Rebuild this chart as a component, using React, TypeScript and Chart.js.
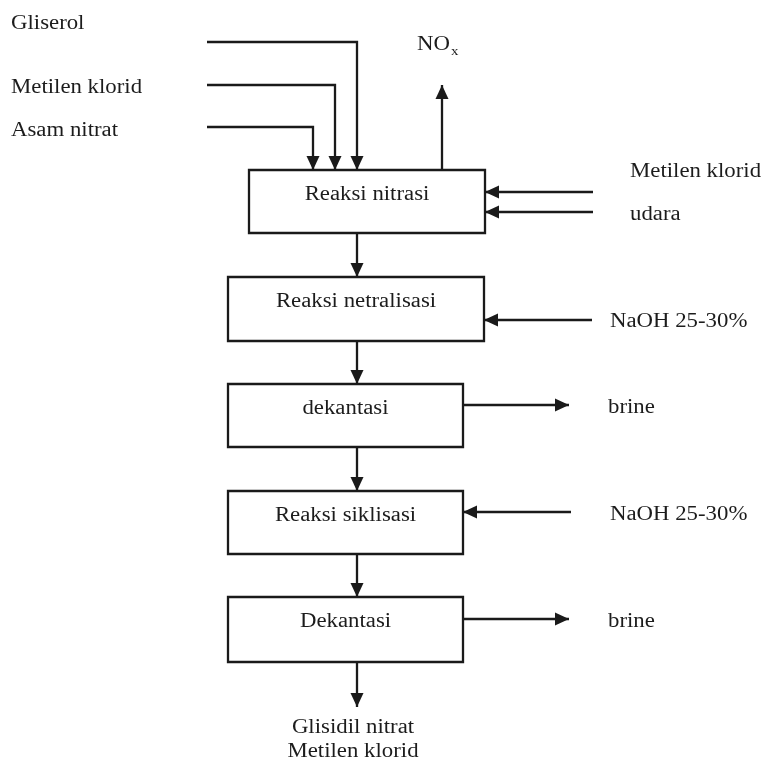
import React, { useEffect, useRef } from "react";
import { Chart, registerables } from "chart.js";

Chart.register(...registerables);

// ---- Diagram data (diagram coordinate units) ----
const boxLabels = ["Reaksi nitrasi", "Reaksi netralisasi", "dekantasi", "Reaksi siklisasi", "Dekantasi"];
const boxLeft = [249, 228, 228, 228, 228];
const boxRight = [485, 484, 463, 463, 463];
const boxTop = [170, 277, 384, 491, 597];
const boxBottom = [233, 341, 447, 554, 662];

// Each flow is a polyline; an arrowhead sits at its last point
const flowPaths: number[][][] = [
  [[207, 42], [357, 42], [357, 170]],
  [[207, 85], [335, 85], [335, 170]],
  [[207, 127], [313, 127], [313, 170]],
  [[442, 170], [442, 85]],
  [[593, 192], [485, 192]],
  [[593, 212], [485, 212]],
  [[357, 233], [357, 277]],
  [[592, 320], [484, 320]],
  [[357, 341], [357, 384]],
  [[463, 405], [569, 405]],
  [[357, 447], [357, 491]],
  [[571, 512], [463, 512]],
  [[357, 554], [357, 597]],
  [[463, 619], [569, 619]],
  [[357, 662], [357, 707]],
];

const labelTexts = [
  "Gliserol", "Metilen klorid", "Asam nitrat",
  "Metilen klorid", "udara", "NaOH 25-30%", "brine", "NaOH 25-30%", "brine",
  "Glisidil nitrat", "Metilen klorid",
];
const labelX = [11, 11, 11, 630, 630, 610, 608, 610, 608, 353, 353];
const labelY = [24, 88, 131, 172, 215, 322, 408, 515, 622, 728, 752];
const labelAlign: CanvasTextAlign[] = [
  "left", "left", "left", "left", "left", "left", "left", "left", "left", "center", "center",
];
const noxLabel = { main: "NO", sub: "x", x: 417, y: 45 };

const LINE = "#1a1a1a";
const TEXT = "#1c1c1c";
const FONT = '"Liberation Serif", "DejaVu Serif", serif';
const FONT_SIZE = 20;
const HSCALE = 1.14;

const datasets: any[] = [];
boxLabels.forEach((_, i) => {
  const midX = (boxLeft[i] + boxRight[i]) / 2;
  datasets.push({
    data: [
      { x: midX, y: boxTop[i] },
      { x: boxRight[i], y: boxTop[i] },
      { x: boxRight[i], y: boxBottom[i] },
      { x: boxLeft[i], y: boxBottom[i] },
      { x: boxLeft[i], y: boxTop[i] },
      { x: midX, y: boxTop[i] },
    ],
    showLine: true,
    borderColor: LINE,
    borderWidth: 2.3,
    pointRadius: 0,
    fill: false,
    tension: 0,
    borderJoinStyle: "miter",
  });
});
flowPaths.forEach((p) => {
  datasets.push({
    data: p.map(([x, y]) => ({ x, y })),
    showLine: true,
    borderColor: LINE,
    borderWidth: 2.3,
    pointRadius: 0,
    fill: false,
    tension: 0,
    borderJoinStyle: "miter",
    borderCapStyle: "butt",
  });
});

function drawText(ctx: CanvasRenderingContext2D, text: string, px: number, py: number, align: CanvasTextAlign, size: number) {
  ctx.save();
  ctx.translate(px, py);
  ctx.scale(HSCALE, 1);
  ctx.font = `${size}px ${FONT}`;
  ctx.fillStyle = TEXT;
  ctx.textAlign = align;
  ctx.textBaseline = "middle";
  ctx.fillText(text, 0, 0);
  const w = ctx.measureText(text).width * HSCALE;
  ctx.restore();
  return w;
}

const diagramPlugin = {
  id: "diagram",
  afterDatasetsDraw(chart: any) {
    const { ctx, scales } = chart;
    const sx = scales.x;
    const sy = scales.y;
    // arrowheads
    ctx.save();
    ctx.fillStyle = LINE;
    flowPaths.forEach((p) => {
      const a = p[p.length - 2];
      const b = p[p.length - 1];
      const ax = sx.getPixelForValue(a[0]);
      const ay = sy.getPixelForValue(a[1]);
      const bx = sx.getPixelForValue(b[0]);
      const by = sy.getPixelForValue(b[1]);
      const ang = Math.atan2(by - ay, bx - ax);
      const len = 14;
      const hw = 6.5;
      const cx = bx - len * Math.cos(ang);
      const cy = by - len * Math.sin(ang);
      ctx.beginPath();
      ctx.moveTo(bx, by);
      ctx.lineTo(cx + hw * Math.sin(ang), cy - hw * Math.cos(ang));
      ctx.lineTo(cx - hw * Math.sin(ang), cy + hw * Math.cos(ang));
      ctx.closePath();
      ctx.fill();
    });
    ctx.restore();
    // box labels
    boxLabels.forEach((t, i) => {
      const cx = sx.getPixelForValue((boxLeft[i] + boxRight[i]) / 2);
      const cy = sy.getPixelForValue(boxTop[i] + 25);
      drawText(ctx, t, cx, cy, "center", FONT_SIZE);
    });
    // free labels
    labelTexts.forEach((t, i) => {
      drawText(ctx, t, sx.getPixelForValue(labelX[i]), sy.getPixelForValue(labelY[i]), labelAlign[i], FONT_SIZE);
    });
    // NOx
    const nx = sx.getPixelForValue(noxLabel.x);
    const ny = sy.getPixelForValue(noxLabel.y);
    const w = drawText(ctx, noxLabel.main, nx, ny, "left", FONT_SIZE);
    drawText(ctx, noxLabel.sub, nx + w + 1, ny + 7, "left", 13);
  },
};

export default function App() {
  const ref = useRef<HTMLCanvasElement | null>(null);
  useEffect(() => {
    if (!ref.current) return;
    const chart = new Chart(ref.current, {
      type: "scatter",
      data: { datasets },
      options: {
        responsive: false,
        animation: false,
        events: [],
        layout: { padding: 0 },
        plugins: { legend: { display: false }, tooltip: { enabled: false } },
        scales: {
          x: { type: "linear", min: 0, max: 770, display: false },
          y: { type: "linear", min: 0, max: 769, reverse: true, display: false },
        },
      } as any,
      plugins: [diagramPlugin],
    });
    return () => chart.destroy();
  }, []);
  return (
    <div style={{ position: "fixed", left: 0, top: 0, width: 770, height: 769, background: "#fff" }}>
      <canvas ref={ref} width={770} height={769} style={{ display: "block" }} />
    </div>
  );
}
